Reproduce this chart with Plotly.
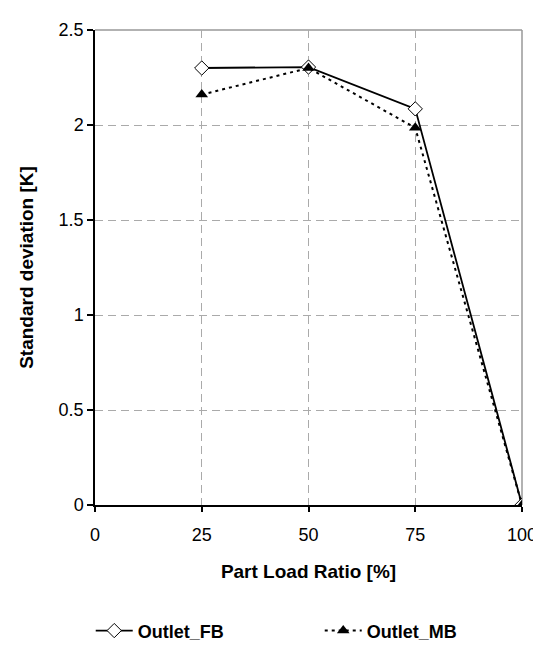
import plotly.graph_objects as go

load_ratio = [25, 50, 75, 100]
outlet_fb = [2.30, 2.305, 2.085, 0.0]
outlet_mb = [2.16, 2.30, 1.985, 0.0]

x_ticks = [0, 25, 50, 75, 100]
y_ticks = [0, 0.5, 1, 1.5, 2, 2.5]

FONT = "Liberation Sans, Arial, sans-serif"

fig = go.Figure()
fig.add_trace(go.Scatter(
    x=load_ratio, y=outlet_fb, name="Outlet_FB", mode="lines+markers",
    line=dict(color="black", width=1.8),
    marker=dict(symbol="diamond", size=11, color="white", line=dict(color="black", width=1)),
))
fig.add_trace(go.Scatter(
    x=load_ratio, y=outlet_mb, name="Outlet_MB", mode="lines+markers",
    line=dict(color="black", width=2, dash="3px,4px"),
    marker=dict(symbol="triangle-up", size=11, color="black"),
))

# top/right gray frame
fig.add_shape(type="line", xref="paper", yref="paper", x0=0, x1=1, y0=1, y1=1,
              line=dict(color="#999999", width=1.5), layer="below")
fig.add_shape(type="line", xref="paper", yref="paper", x0=1, x1=1, y0=0, y1=1,
              line=dict(color="#999999", width=1.5), layer="below")

fig.update_layout(
    width=541, height=653,
    margin=dict(l=87, r=20, t=17, b=141),
    paper_bgcolor="white", plot_bgcolor="white",
    font=dict(family=FONT, size=18, color="black"),
    showlegend=True,
    legend=dict(orientation="h", x=-0.01, xanchor="left", y=-0.265, yanchor="middle",
                font=dict(family=FONT, size=18, color="black", weight="bold"),
                itemwidth=37,
                entrywidth=177, entrywidthmode="pixels", bgcolor="rgba(0,0,0,0)"),
)
fig.update_xaxes(
    range=[0, 100], tickvals=x_ticks, ticktext=[str(v) for v in x_ticks],
    showline=True, linecolor="black", linewidth=1.5,
    ticks="outside", ticklen=5, tickcolor="black", tickwidth=1.5,
    ticklabelstandoff=8,
    showgrid=True, gridcolor="#aaaaaa", griddash="8px,5px", gridwidth=1.3,
    zeroline=False,
    title=dict(text="Part Load Ratio [%]", font=dict(family=FONT, size=19, weight="bold"), standoff=20),
    tickfont=dict(family=FONT, size=18),
)
fig.update_yaxes(
    range=[0, 2.5], tickvals=y_ticks, ticktext=["0", "0.5", "1", "1.5", "2", "2.5"],
    showline=True, linecolor="black", linewidth=1.5,
    ticks="outside", ticklen=6, tickcolor="black", tickwidth=1.5,
    showgrid=True, gridcolor="#aaaaaa", griddash="8px,5px", gridwidth=1.3,
    zeroline=False,
    title=dict(text="Standard deviation [K]", font=dict(family=FONT, size=19, weight="bold"), standoff=20),
    tickfont=dict(family=FONT, size=18),
)

fig.write_html("out.html")
